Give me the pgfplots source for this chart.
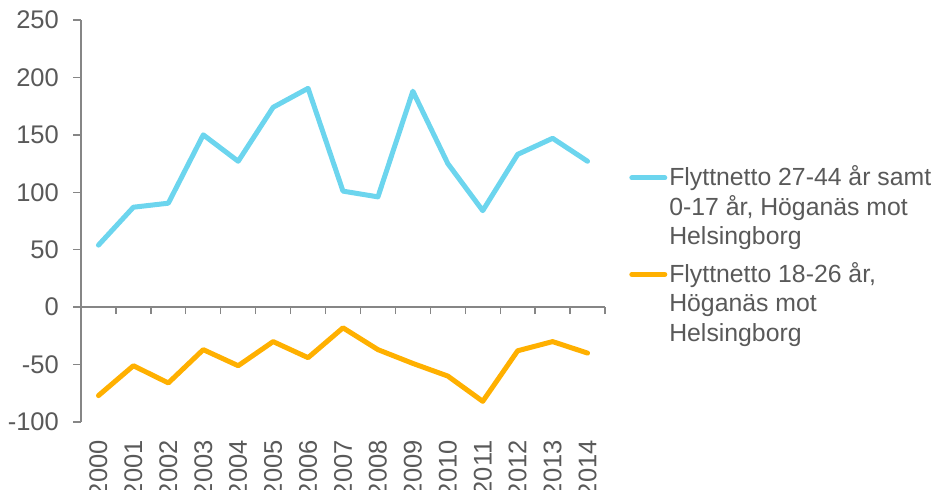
\documentclass[border=0pt]{standalone}
\usepackage{pgfplots}
\pgfplotsset{compat=1.18}
\usepackage{fontspec}
\setmainfont{Liberation Sans}
\definecolor{textgray}{HTML}{595959}
\definecolor{axisgray}{HTML}{868686}
\definecolor{lblue}{HTML}{6CD5EE}
\definecolor{lorange}{HTML}{FFB000}
\pgfplotstableread{
x y
0 54
1 87
2 90.5
3 150
4 127
5 174
6 190.5
7 101
8 96
9 188
10 125
11 84
12 133
13 147
14 127
}\bluedata
\pgfplotstableread{
x y
0 -77
1 -51
2 -66
3 -37
4 -51
5 -30
6 -44
7 -18
8 -37
9 -49
10 -60
11 -82
12 -38
13 -30
14 -40
}\orangedata
\begin{document}
\begin{tikzpicture}
\useasboundingbox (0,0) rectangle (933bp,490bp);
\begin{axis}[
  at={(81bp,68bp)}, anchor=south west,
  scale only axis, width=524bp, height=402bp,
  xmin=-0.5, xmax=14.5, ymin=-100, ymax=250,
  axis x line=middle, axis y line=left,
  axis line style={draw=axisgray, line width=1.3bp, -},
  hide obscured x ticks=false, hide obscured y ticks=false,
  ytick={-100,-50,...,250},
  xtick={0,...,14},
  xticklabels={2000,2001,2002,2003,2004,2005,2006,2007,2008,2009,2010,2011,2012,2013,2014},
  minor xtick={-0.5,0.5,...,14.5},
  every major x tick/.append style={draw=none},
  every minor x tick/.append style={draw=axisgray, line width=1.3bp},
  every major y tick/.append style={draw=axisgray, line width=1.3bp},
  tick align=outside,
  major tick length=8bp, minor tick length=7bp,
  /pgf/number format/assume math mode=true,
  tick label style={font=\fontsize{25.5bp}{30bp}\selectfont, text=textgray, inner sep=0pt},
  yticklabel style={xshift=-14bp},
  xticklabel style={rotate=90, anchor=east, xshift=-125bp},
  legend style={draw=none, fill=none, at={(axis description cs:1.046,0.643)}, anchor=north west,
    font=\fontsize{24.8bp}{29.5bp}\selectfont, text=textgray, row sep=12bp, inner sep=0pt,
    cells={align=left}},
  legend cell align=left,
  legend image code/.code={\path[draw=none,fill=none] (0bp,-34bp) rectangle (33bp,34bp);
    \draw[#1] (0bp,28bp) -- (33bp,28bp);},
]
\addplot[lblue, line width=5bp, line join=round, line cap=round] table[x=x,y=y] {\bluedata};
\addlegendentry{Flyttnetto 27-44 år samt\\0-17 år, Höganäs mot\\Helsingborg}
\addplot[lorange, line width=5bp, line join=round, line cap=round] table[x=x,y=y] {\orangedata};
\addlegendentry{Flyttnetto 18-26 år,\\Höganäs mot\\Helsingborg}
\end{axis}
\end{tikzpicture}
\end{document}
